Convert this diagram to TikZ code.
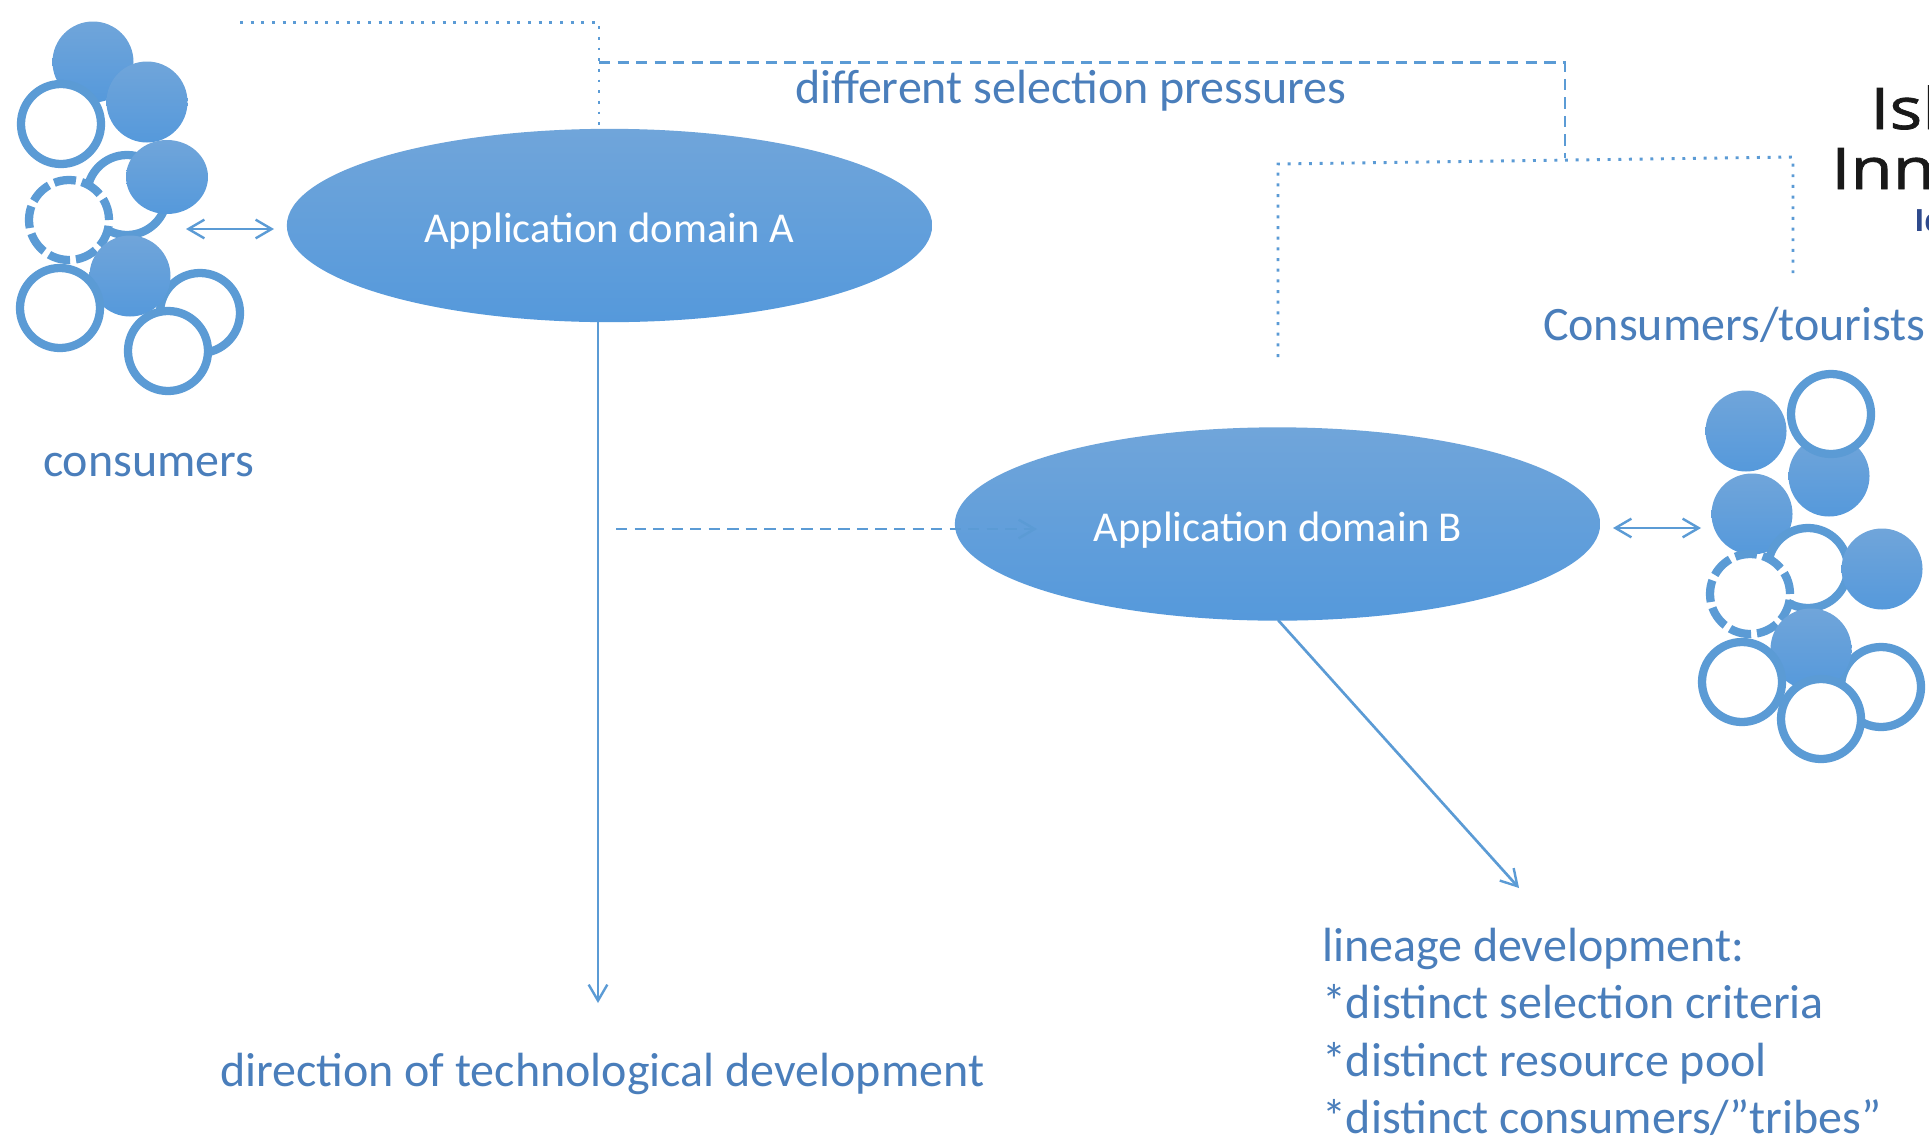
\documentclass[tikz,border=0pt]{standalone}
\usepackage{fontspec}
\setmainfont{Carlito}
\newfontfamily\logofont[FakeStretch=1.2,FakeBold=1.2]{Open Sans}
\newfontfamily\logosub{Open Sans}
\usetikzlibrary{arrows.meta,shapes.geometric}
\definecolor{lineblue}{HTML}{5B9BD5}
\definecolor{textblue}{HTML}{4A7EBB}
\definecolor{shadetop}{HTML}{70A5DA}
\definecolor{shadebot}{HTML}{5599DB}
\definecolor{logoblue}{HTML}{2F4A8C}
\tikzset{
  barb/.tip={Straight Barb[length=12pt,width=14pt,line width=1.8pt]},
  ballnode/.style={circle,inner sep=0pt,outer sep=0pt,minimum size=60.75pt,top color=shadetop,bottom color=shadebot,draw=none},
  flatball/.style={ellipse,inner sep=0pt,outer sep=0pt,minimum width=61.5pt,minimum height=55.5pt,top color=shadetop,bottom color=shadebot,draw=none},
  ringnode/.style={circle,inner sep=0pt,outer sep=0pt,minimum size=60pt,draw=lineblue,line width=6.2pt,fill=white},
  dashring/.style={ringnode,dash pattern=on 16.5pt off 4.44pt},
  domnode/.style={ellipse,inner sep=0pt,outer sep=0pt,minimum width=484pt,minimum height=145pt,top color=shadetop,bottom color=shadebot,draw=none},
  domtext/.style={text=white,anchor=base,inner sep=0pt,outer sep=0pt,font=\fontsize{31.9}{36}\selectfont},
  connline/.style={draw=lineblue,line width=2pt},
  tiparrow/.style={connline,-barb},
  biarrow/.style={connline,barb-barb},
  dotline/.style={draw=lineblue,line width=2.2pt,dash pattern=on 2.2pt off 5.8pt},
  dashline/.style={draw=lineblue,line width=2pt,dash pattern=on 8.5pt off 5.4pt},
  lbl/.style={text=textblue,anchor=base west,inner sep=0pt,outer sep=0pt,font=\fontsize{36}{42}\selectfont},
  logotext/.style={anchor=base west,inner sep=0pt,text=black!90,font=\logofont\fontsize{43}{50}\selectfont},
}
\begin{document}
\begin{tikzpicture}[x=0.75pt,y=-0.75pt]
\useasboundingbox[fill=white] (0,0) rectangle (1929,1139);
% left cluster
\node[ballnode] (l1) at (93,62) {};
\node[ringnode] (l2) at (61,124) {};
\node[ballnode] (l3) at (147,102) {};
\node[ringnode] (l4) at (127,195) {};
\node[dashring] (l5) at (69,220) {};
\node[flatball] (l6) at (167,177) {};
\node[ringnode] (l7) at (200,313) {};
\node[ballnode] (l8) at (130,276) {};
\node[ringnode] (l9) at (60,308) {};
\node[ringnode] (l10) at (168,351) {};
% right cluster
\node[ballnode] (r1) at (1746,431) {};
\node[ballnode] (r2) at (1829,476) {};
\node[ringnode] (r3) at (1831,414) {};
\node[ballnode] (r4) at (1752,514) {};
\node[ringnode] (r5) at (1808,568) {};
\node[dashring] (r6) at (1750,594) {};
\node[ballnode] (r7) at (1882,569) {};
\node[ringnode] (r8) at (1881,687) {};
\node[ballnode] (r9) at (1811,649) {};
\node[ringnode] (r10) at (1742,682) {};
\node[ringnode] (r11) at (1821,719) {};
% domains
\node[domnode] (A) at (609.5,225.5) {};
\node[domnode] (B) at (1277.5,524) {};
\node[domtext] (At) at (609,242) {Application domain A};
\node[domtext] (Bt) at (1278,541) {Application domain B};
% labels
\node[lbl] (tsel) at (795,103.5) {different selection pressures};
\node[lbl] (tcons) at (1543,340) {Consumers/tourists};
\node[lbl] (tleft) at (43,476.5) {consumers};
\node[lbl] (tdir) at (220,1086.5) {direction of technological development};
\node[lbl] (tl1) at (1322,961.5) {lineage development:};
\node[lbl] (tl2) at (1322,1018.5) {*distinct selection criteria};
\node[lbl] (tl3) at (1322,1076) {*distinct resource pool};
\node[lbl] (tl4) at (1322,1133) {*distinct consumers/”tribes”};
% logo fragment
\node[logotext] (lg1) at (1870,129) {Isl};
\node[logotext] (lg2) at (1831,189) {Inn};
\node[anchor=base west,inner sep=0pt,text=logoblue,font=\logosub\bfseries\fontsize{23}{27}\selectfont] (lg3) at (1914,231) {Id};
% connector anchors
\coordinate (dotS) at (240,22.5);
\coordinate (dotC) at (599,22.5);
\coordinate (dotE) at (599,129);
\coordinate (dashS) at (599,62.5);
\coordinate (dashC) at (1565,62.5);
\coordinate (dashE) at (1565,158);
\coordinate (d2S) at (1278,357);
\coordinate (d2C) at (1278,164);
\coordinate (d2D) at (1793,157);
\coordinate (d2E) at (1793,276);
\coordinate (dirS) at (598,322);
\coordinate (dirE) at (598,1003);
\coordinate (linS) at (1278,620);
\coordinate (linE) at (1519,888);
\coordinate (spS) at (616,529);
\coordinate (spE) at (1037,529);
\coordinate (bl1) at (186,229);
\coordinate (bl2) at (274,229);
\coordinate (br1) at (1613,528);
\coordinate (br2) at (1701,528);
% connectors
\draw[dotline] (dotS) -- (dotC) -- (dotE);
\draw[dashline] (dashS) -- (dashC) -- (dashE);
\draw[dotline] (d2S) -- (d2C) -- (d2D) -- (d2E);
\draw[tiparrow] (dirS) -- (dirE);
\draw[tiparrow] (linS) -- (linE);
\draw[tiparrow,dash pattern=on 8.5pt off 5.4pt] (spS) -- (spE);
\draw[biarrow] (bl1) -- (bl2);
\draw[biarrow] (br1) -- (br2);
\end{tikzpicture}
\end{document}
